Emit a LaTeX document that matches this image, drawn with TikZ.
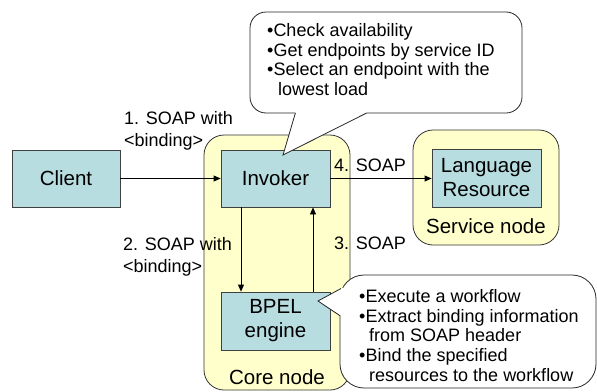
\documentclass[tikz,border=0pt]{standalone}
\usepackage{fontspec}
\setmainfont{Liberation Sans}
\usetikzlibrary{arrows.meta}
\definecolor{boxfill}{HTML}{B7DDE0}
\definecolor{nodefill}{HTML}{FFFFCC}
\definecolor{edge}{HTML}{404040}
\begin{document}
\begin{tikzpicture}[x=1pt,y=-1pt,
  bigtext/.style={font=\fontsize{20.5}{24}\selectfont},
  smalltext/.style={font=\fontsize{18}{22}\selectfont},
  calltext/.style={font=\fontsize{18}{19.8}\selectfont, align=left, inner sep=0pt, anchor=north west},
  compbox/.style={draw=edge, fill=boxfill, line width=0.8pt, align=center, inner sep=0pt, bigtext},
  hostbox/.style={draw=black!80, fill=nodefill, line width=0.8pt, rounded corners=20pt, inner sep=0pt},
  arr/.style={-{Triangle[length=7pt,width=6pt]}, line width=0.8pt, black},
  callout/.style={draw=black!85, fill=white, line width=0.8pt},
  lbl/.style={smalltext, align=left, inner sep=0pt}
]
\useasboundingbox (0,0) rectangle (597,391);

% host nodes
\node[hostbox, minimum width=146pt, minimum height=255pt] (core) at (277,262.5) {};
\node[hostbox, minimum width=146pt, minimum height=115pt] (service) at (486,187.5) {};
\node[bigtext, inner sep=0pt] (corelbl) at (277,377) {Core node};
\node[bigtext, inner sep=0pt] (servicelbl) at (486,226) {Service node};

% components
\node[compbox, minimum width=108pt, minimum height=57pt] (client) at (66,178.5) {Client};
\node[compbox, minimum width=109pt, minimum height=57pt] (invoker) at (275.5,178.5) {Invoker};
\node[compbox, minimum width=109pt, minimum height=58pt] (bpel) at (275.5,321) {BPEL\\engine};
\node[compbox, minimum width=109pt, minimum height=58pt] (lr) at (486.5,178) {Language\\Resource};

% connectors
\draw[arr] (client.east) -- (invoker.west);
\draw[arr] (invoker.east) -- (invoker.east -| lr.west);
\draw[arr] ([xshift=-34.5pt]invoker.south) -- ([xshift=-34.5pt]bpel.north);
\draw[arr] ([xshift=37.5pt]bpel.north) -- ([xshift=37.5pt]invoker.south);

% labels
\node[lbl, anchor=north west] (l1) at (124,111) {1. SOAP with\\<binding>};
\node[lbl, anchor=north west] (l2) at (123,237) {2. SOAP with\\<binding>};
\node[lbl, anchor=west] (l4) at (334,165.5) {4. SOAP};
\node[lbl, anchor=west] (l3) at (334,243.5) {3. SOAP};

% callout 1
\node[callout, rounded corners=16pt, minimum width=272pt, minimum height=101pt, inner sep=0pt] (c1box) at (386,62.5) {};
\fill[white] (295.4,108) -- (295.4,113.5) -- (283,155) -- (366.6,113.5) -- (366.6,108) -- cycle;
\draw[black!85, line width=0.8pt, line join=miter] (295.4,113) -- (283,155) -- (366.6,113);
\node[calltext] (c1text) at (267,23) {•Check availability\\•Get endpoints by service ID\\•Select an endpoint with the\\\hspace{11pt}lowest load};

% callout 2
\node[callout, rounded corners=24pt, minimum width=256pt, minimum height=113pt, inner sep=0pt] (c2box) at (468,331.5) {};
\fill[white] (345,287) -- (340.4,289) -- (318,301) -- (340.4,316) -- (345,316) -- cycle;
\draw[black!85, line width=0.8pt, line join=miter] (341,288.5) -- (318,301) -- (340.4,316);
\node[calltext] (c2text) at (359,289) {•Execute a workflow\\•Extract binding information\\\hspace{10pt}from SOAP header\\•Bind the specified\\\hspace{10pt}resources to the workflow};
\end{tikzpicture}
\end{document}
